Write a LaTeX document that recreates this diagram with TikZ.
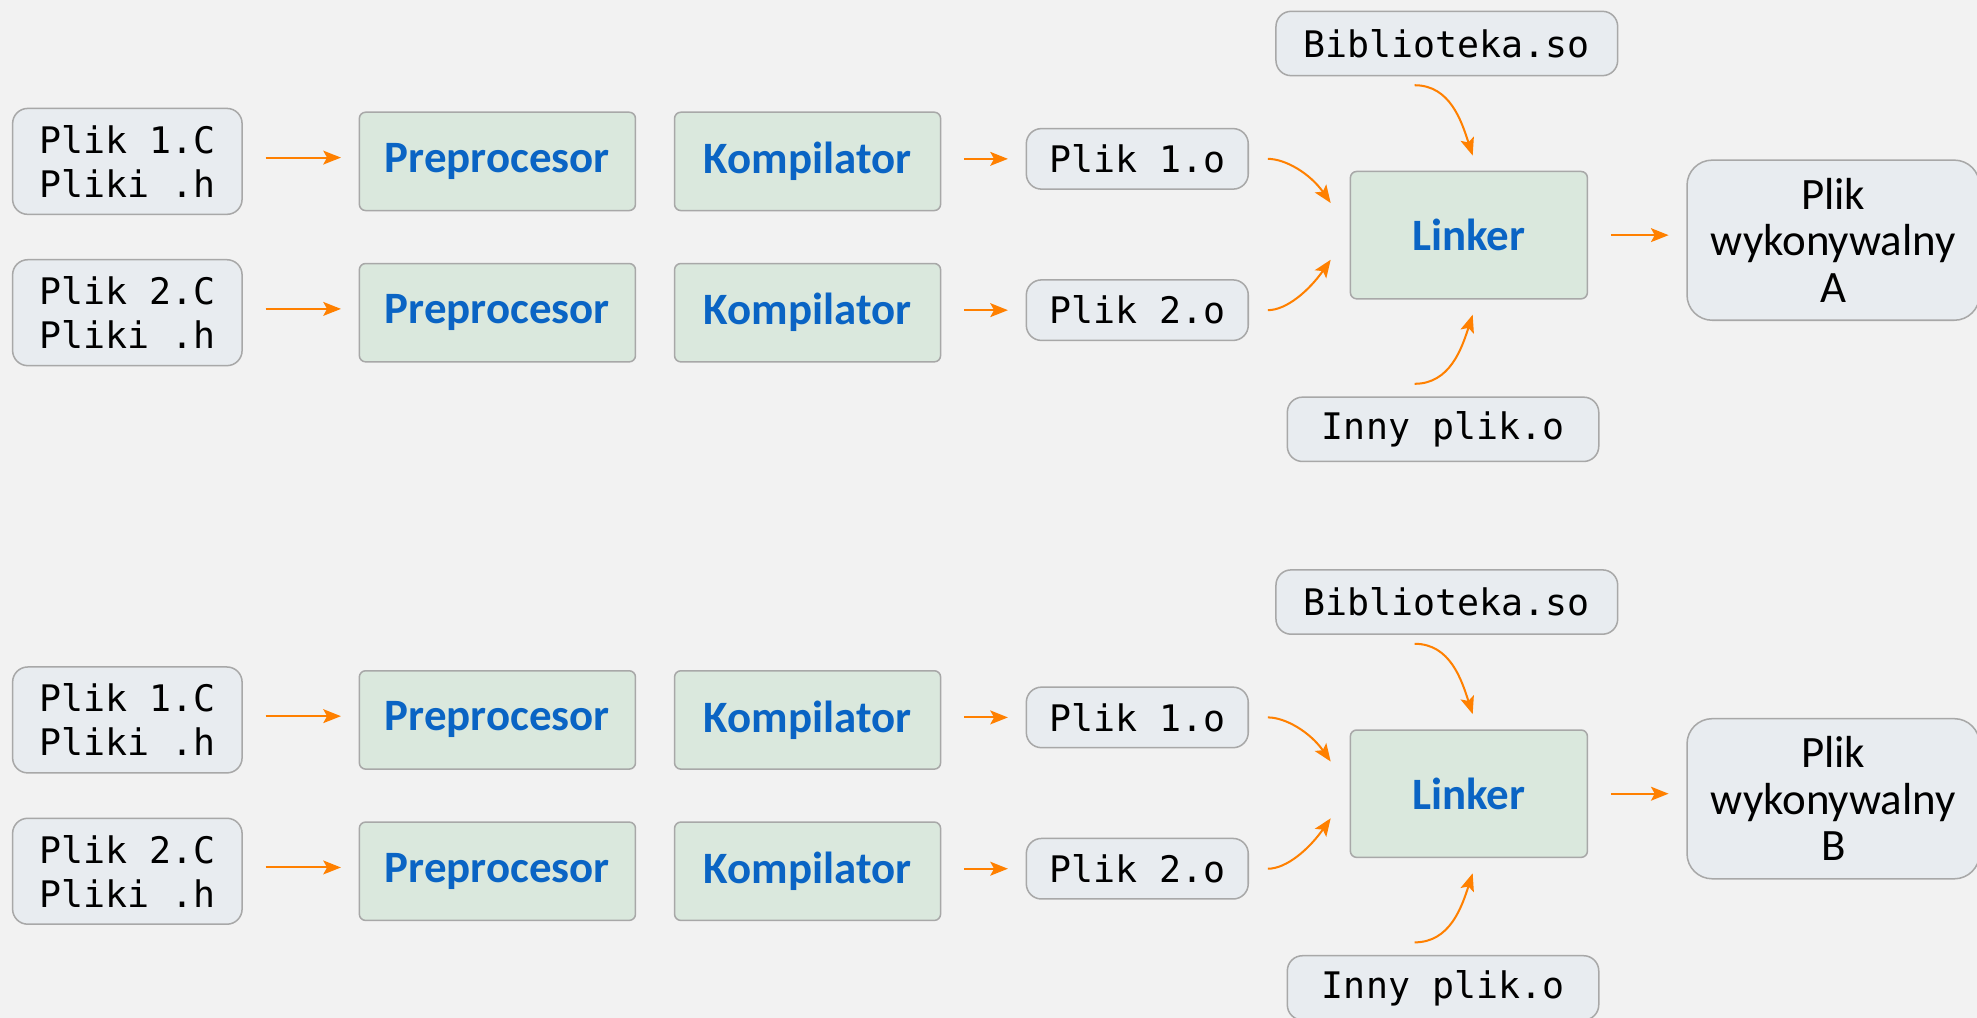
\documentclass[tikz,border=0pt]{standalone}
\usepackage{fontspec}
\setmainfont{Carlito}
\setmonofont{DejaVu Sans Mono}
\usetikzlibrary{calc,arrows.meta}

\definecolor{bg}{HTML}{F2F2F2}
\definecolor{filefill}{HTML}{E8ECF0}
\definecolor{stepfill}{HTML}{DAE8DD}
\definecolor{boxline}{HTML}{A8A8A8}
\definecolor{stepblue}{HTML}{0A64C4}
\definecolor{flowcol}{HTML}{FF8000}

\tikzset{
  filebox/.style={draw=boxline, fill=filefill, line width=0.6pt,
    rounded corners=6pt, align=center, inner sep=0pt,
    font=\fontsize{14.5}{17.5}\selectfont\ttfamily},
  outbox/.style={draw=boxline, fill=filefill, line width=0.6pt,
    rounded corners=10pt, align=center, inner sep=0pt,
    font=\fontsize{17.8}{18.5}\selectfont},
  stepbox/.style={draw=boxline, fill=stepfill, line width=0.6pt,
    rounded corners=2.5pt, align=center, inner sep=0pt, text=stepblue,
    font=\fontsize{17.8}{20}\selectfont\bfseries},
  flow/.style={draw=flowcol, line width=0.8pt,
    -{Stealth[length=7pt,width=5.5pt,inset=1.5pt]}},
  gap/.style={shorten <=9pt, shorten >=7pt}
}

\begin{document}
\begin{tikzpicture}[x=0.5pt,y=-0.5pt]
  % canvas
  \fill[bg] (0,0) rectangle (1568,807);
  \useasboundingbox (0,0) rectangle (1568,807);

  \foreach \g/\dy in {A/0,B/443} {
    % sources
    \node[filebox, minimum width=91pt, minimum height=42pt] (src1\g) at (101,128+\dy) {Plik 1.C\\Pliki .h};
    \node[filebox, minimum width=91pt, minimum height=42pt] (src2\g) at (101,248+\dy) {Plik 2.C\\Pliki .h};
    % preprocessing and compiling steps
    \node[stepbox, minimum width=109.5pt, minimum height=39pt] (pre1\g) at (394.5,128+\dy) {Preprocesor};
    \node[stepbox, minimum width=109.5pt, minimum height=39pt] (pre2\g) at (394.5,248+\dy) {Preprocesor};
    \node[stepbox, minimum width=105.5pt, minimum height=39pt] (kom1\g) at (640.5,128+\dy) {Kompilator};
    \node[stepbox, minimum width=105.5pt, minimum height=39pt] (kom2\g) at (640.5,248+\dy) {Kompilator};
    % object files
    \node[filebox, minimum width=88pt, minimum height=24pt] (obj1\g) at (902,126+\dy) {Plik 1.o};
    \node[filebox, minimum width=88pt, minimum height=24pt] (obj2\g) at (902,246+\dy) {Plik 2.o};
    \node[filebox, minimum width=135.5pt, minimum height=25.5pt] (bib\g) at (1147.5,34.5+\dy) {Biblioteka.so};
    \node[filebox, minimum width=123.5pt, minimum height=25.5pt] (inny\g) at (1144.5,340.5+\dy) {Inny plik.o};
    % linking
    \node[stepbox, minimum width=94pt, minimum height=50.5pt] (lnk\g) at (1165,186.5+\dy) {Linker};
    \node[outbox, minimum width=116pt, minimum height=63.5pt] (exe\g) at (1454,190.5+\dy) {Plik\\wykonywalny\\\g};

    % straight arrows
    \draw[flow, gap] ($(src1\g.east)+(0,-3)$) -- ($(src1\g.east -| pre1\g.west)+(0,-3)$);
    \draw[flow, gap] ($(src2\g.east)+(0,-3)$) -- ($(src2\g.east -| pre2\g.west)+(0,-3)$);
    \draw[flow, gap] (obj1\g.west -| kom1\g.east) -- (obj1\g.west);
    \draw[flow, gap] (obj2\g.west -| kom2\g.east) -- (obj2\g.west);
    \draw[flow, gap] (lnk\g.east) -- (lnk\g.east -| exe\g.west);

    % curved arrows into the linker
    \coordinate (inA\g) at ($(lnk\g.west)+(-15,-25.5)$);
    \coordinate (inB\g) at ($(lnk\g.west)+(-15,19.5)$);
    \coordinate (inC\g) at ($(lnk\g.north)+(3,-12)$);
    \coordinate (inD\g) at ($(lnk\g.south)+(3,12)$);
    \coordinate (outC\g) at ($(bib\g.south)+(-25.5,7)$);
    \coordinate (outD\g) at ($(inny\g.north)+(-22.5,-10)$);
    \draw[flow, shorten <=7.5pt] (obj1\g.east) to[out=0,in=125] (inA\g);
    \draw[flow, shorten <=7.5pt] (obj2\g.east) to[out=0,in=235] (inB\g);
    \draw[flow] (outC\g) to[out=0,in=108] (inC\g);
    \draw[flow] (outD\g) to[out=0,in=252] (inD\g);
  }
\end{tikzpicture}
\end{document}
